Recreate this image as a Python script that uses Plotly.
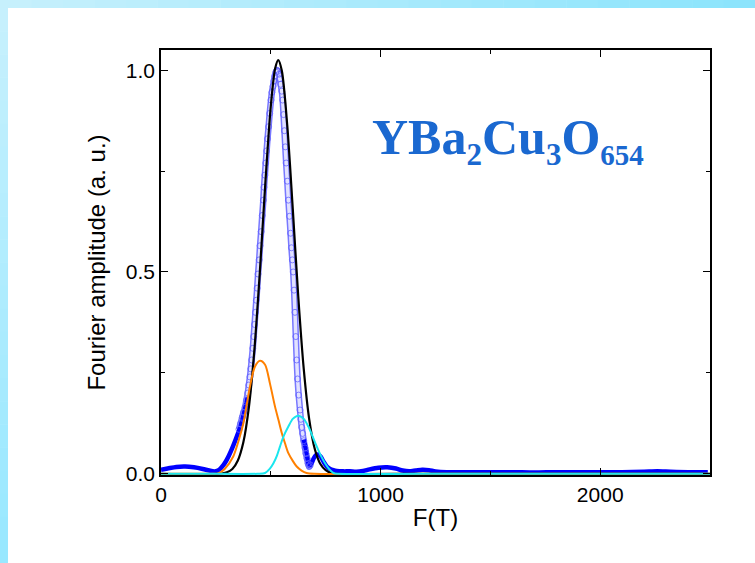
import plotly.graph_objects as go

# ---------------- data ----------------
# thick blue line: measured Fourier spectrum (two visible pieces, gap under the peak)
blue_F = [0, 30, 70, 110, 150, 190, 220, 245, 265, 285, 300, 320, 340, 360, 380, 395,
          None,
          650, 660, 668, 675, 685, 695, 705, 716, 728, 740, 755, 770, 785, 800, 830, 860,
          890, 920, 950, 990, 1030, 1070, 1100, 1130, 1160, 1190, 1220, 1250, 1300, 1400,
          1500, 1600, 1700, 1800, 1900, 2000, 2100, 2200, 2260, 2320, 2400, 2490]
blue_A = [0.010, 0.013, 0.017, 0.018, 0.016, 0.012, 0.008, 0.006, 0.010, 0.022, 0.035,
          0.058, 0.085, 0.115, 0.155, 0.190,
          None,
          0.085, 0.060, 0.035, 0.020, 0.025, 0.038, 0.046, 0.048, 0.042, 0.030, 0.018,
          0.012, 0.009, 0.007, 0.006, 0.006, 0.005, 0.007, 0.011, 0.015, 0.016, 0.013,
          0.008, 0.006, 0.008, 0.010, 0.009, 0.006, 0.004, 0.004, 0.004, 0.004, 0.003,
          0.004, 0.004, 0.004, 0.004, 0.005, 0.006, 0.005, 0.004, 0.004]

# open circles: main peak
circ_F = [355, 362, 370, 376, 383, 389, 395, 400, 405, 409, 413, 418, 422, 426, 430,
          434, 438, 442, 447, 451, 456, 461, 466, 469, 473, 477, 481, 485, 490, 495,
          501, 505, 510, 514, 518, 523, 528, 532, 537, 541, 545, 550, 554, 558, 562,
          566, 570, 575, 580, 585, 590, 594, 598, 602, 606, 610, 614, 618, 622, 627,
          633, 637, 641, 645, 650, 656, 660, 665, 670, 675, 680]
circ_A = [0.110, 0.124, 0.140, 0.152, 0.165, 0.182, 0.200, 0.220, 0.240, 0.260, 0.282,
          0.311, 0.340, 0.370, 0.400, 0.430, 0.460, 0.495, 0.530, 0.565, 0.600, 0.640,
          0.678, 0.710, 0.740, 0.770, 0.800, 0.830, 0.860, 0.893, 0.926, 0.945, 0.960,
          0.973, 0.985, 0.995, 1.000, 0.997, 0.990, 0.979, 0.965, 0.948, 0.926, 0.890,
          0.850, 0.810, 0.770, 0.725, 0.678, 0.638, 0.596, 0.560, 0.530, 0.500, 0.455,
          0.400, 0.340, 0.282, 0.235, 0.195, 0.158, 0.135, 0.115, 0.100, 0.082, 0.064,
          0.050, 0.038, 0.025, 0.018, 0.022]

# black fitted line
black_F = [0, 250, 300, 325, 350, 375, 400, 425, 450, 475, 500, 520, 534, 550, 575,
           600, 625, 650, 675, 700, 725, 750, 775, 800, 1200, 1800, 2500]
black_A = [0, 0, 0.004, 0.012, 0.033, 0.078, 0.164, 0.305, 0.499, 0.719, 0.911, 1.005,
           1.025, 0.999, 0.863, 0.657, 0.440, 0.260, 0.135, 0.062, 0.025, 0.009, 0.002,
           0, 0, 0, 0]

# orange component
orange_F = [0, 150, 240, 261, 290, 329, 355, 375, 390, 405, 428, 451, 474, 496, 519,
            535, 550, 565, 580, 600, 618, 640, 663, 700, 1200, 1800, 2500]
orange_A = [0, 0, 0, 0.001, 0.012, 0.043, 0.085, 0.125, 0.170, 0.216, 0.266, 0.280,
            0.270, 0.224, 0.167, 0.133, 0.101, 0.075, 0.051, 0.032, 0.018, 0.008, 0.002,
            0, 0, 0, 0]

# cyan component
cyan_F = [0, 200, 440, 474, 495, 512, 528, 542, 560, 580, 600, 625, 650, 671, 690, 709,
          728, 747, 765, 785, 810, 1200, 1800, 2500]
cyan_A = [0, 0, 0, 0.002, 0.012, 0.026, 0.045, 0.068, 0.095, 0.117, 0.136, 0.144, 0.136,
          0.117, 0.093, 0.068, 0.045, 0.026, 0.012, 0.002, 0, 0, 0, 0]

x_ticks = [0, 1000, 2000]
x_ticklabels = ["0", "1000", "2000"]
y_ticks = [0.0, 0.5, 1.0]
y_ticklabels = ["0.0", "0.5", "1.0"]

# ---------------- figure ----------------
W, H = 755, 563
ML, MR, MT, MB = 161, 45, 50, 88
PW, PH = W - ML - MR, H - MT - MB


def xp(px):
    return (px - ML) / PW


def yp(py):
    return (MT + PH - py) / PH


fig = go.Figure()

# dense chain of open circles: drawn as a hollow tube plus the circle symbols
fig.add_trace(go.Scatter(x=circ_F, y=circ_A, mode="lines",
                         line=dict(color="rgb(120,120,255)", width=6.5, shape="spline",
                                   smoothing=0.8),
                         hoverinfo="skip"))
fig.add_trace(go.Scatter(x=circ_F, y=circ_A, mode="lines",
                         line=dict(color="rgb(226,226,255)", width=3.5, shape="spline",
                                   smoothing=0.8),
                         hoverinfo="skip"))
fig.add_trace(go.Scatter(x=blue_F, y=blue_A, mode="lines",
                         line=dict(color="#0000ff", width=4.5, shape="spline", smoothing=0.8),
                         connectgaps=False, hoverinfo="skip"))
fig.add_trace(go.Scatter(x=circ_F, y=circ_A, mode="markers",
                         marker=dict(symbol="circle-open", size=6,
                                     color="rgba(95,95,255,0.75)", line=dict(width=1)),
                         hoverinfo="skip"))
fig.add_trace(go.Scatter(x=black_F, y=black_A, mode="lines",
                         line=dict(color="#000000", width=2.2, shape="spline", smoothing=0.8)))
fig.add_trace(go.Scatter(x=orange_F, y=orange_A, mode="lines",
                         line=dict(color="#ff8000", width=2, shape="spline", smoothing=0.8)))
fig.add_trace(go.Scatter(x=cyan_F, y=cyan_A, mode="lines",
                         line=dict(color="#19e6ee", width=2, shape="spline", smoothing=0.8)))

# light-cyan page border (gradient approximated by steps)
shapes = []
N = 24
c0 = (198, 240, 252)
c1 = (140, 228, 252)
for i in range(N):
    t = i / (N - 1)
    col = "rgb(%d,%d,%d)" % tuple(round(c0[k] + (c1[k] - c0[k]) * t) for k in range(3))
    x0 = W * i / N
    x1 = W * (i + 1) / N + 0.5
    shapes.append(dict(type="rect", xref="paper", yref="paper", layer="below",
                       x0=xp(x0), x1=xp(x1), y0=yp(8), y1=yp(0),
                       line=dict(width=0), fillcolor=col))
c2 = (198, 240, 253)
c3 = (152, 232, 255)
for i in range(N):
    t = i / (N - 1)
    col = "rgb(%d,%d,%d)" % tuple(round(c2[k] + (c3[k] - c2[k]) * t) for k in range(3))
    y0 = 8 + (H - 8) * i / N
    y1 = 8 + (H - 8) * (i + 1) / N + 0.5
    shapes.append(dict(type="rect", xref="paper", yref="paper", layer="below",
                       x0=xp(0), x1=xp(8), y0=yp(y1), y1=yp(y0),
                       line=dict(width=0), fillcolor=col))

fig.update_layout(
    width=W, height=H,
    margin=dict(l=ML, r=MR, t=MT, b=MB),
    paper_bgcolor="white", plot_bgcolor="white",
    showlegend=False,
    shapes=shapes,
    font=dict(family="Liberation Sans, Arial", color="black"),
    xaxis=dict(range=[0, 2500], showgrid=False, zeroline=False,
               showline=True, linecolor="black", linewidth=1.5, mirror="allticks",
               ticks="inside", ticklen=7, tickwidth=1.2, tickcolor="black",
               tickvals=x_ticks, ticktext=x_ticklabels,
               tickfont=dict(size=21),
               minor=dict(tickvals=[500, 1500], ticks="inside", ticklen=4,
                          tickwidth=1.2, tickcolor="black"),
               title=dict(text="F(T)", font=dict(size=24), standoff=4)),
    yaxis=dict(range=[-0.003, 1.05], showgrid=False, zeroline=False,
               showline=True, linecolor="black", linewidth=1.5, mirror="allticks",
               ticks="inside", ticklen=7, tickwidth=1.2, tickcolor="black",
               tickvals=y_ticks, ticktext=y_ticklabels,
               tickfont=dict(size=21),
               minor=dict(tickvals=[0.25, 0.75], ticks="inside", ticklen=4,
                          tickwidth=1.2, tickcolor="black"),
               title=dict(text="Fourier amplitude (a. u.)", font=dict(size=24), standoff=13)),
    annotations=[dict(
        text=("<b>YBa<sub><span style=\"font-size:31px\">2</span></sub>"
              "Cu<sub><span style=\"font-size:31px\">3</span></sub>"
              "O<sub><span style=\"font-size:29px\">654</span></sub></b>"),
        xref="paper", yref="paper", x=xp(370), y=yp(140),
        xanchor="left", yanchor="middle", showarrow=False,
        font=dict(family="Liberation Serif, Times New Roman", size=50, color="#1a68d0"))],
)

fig.write_html("out.html")
